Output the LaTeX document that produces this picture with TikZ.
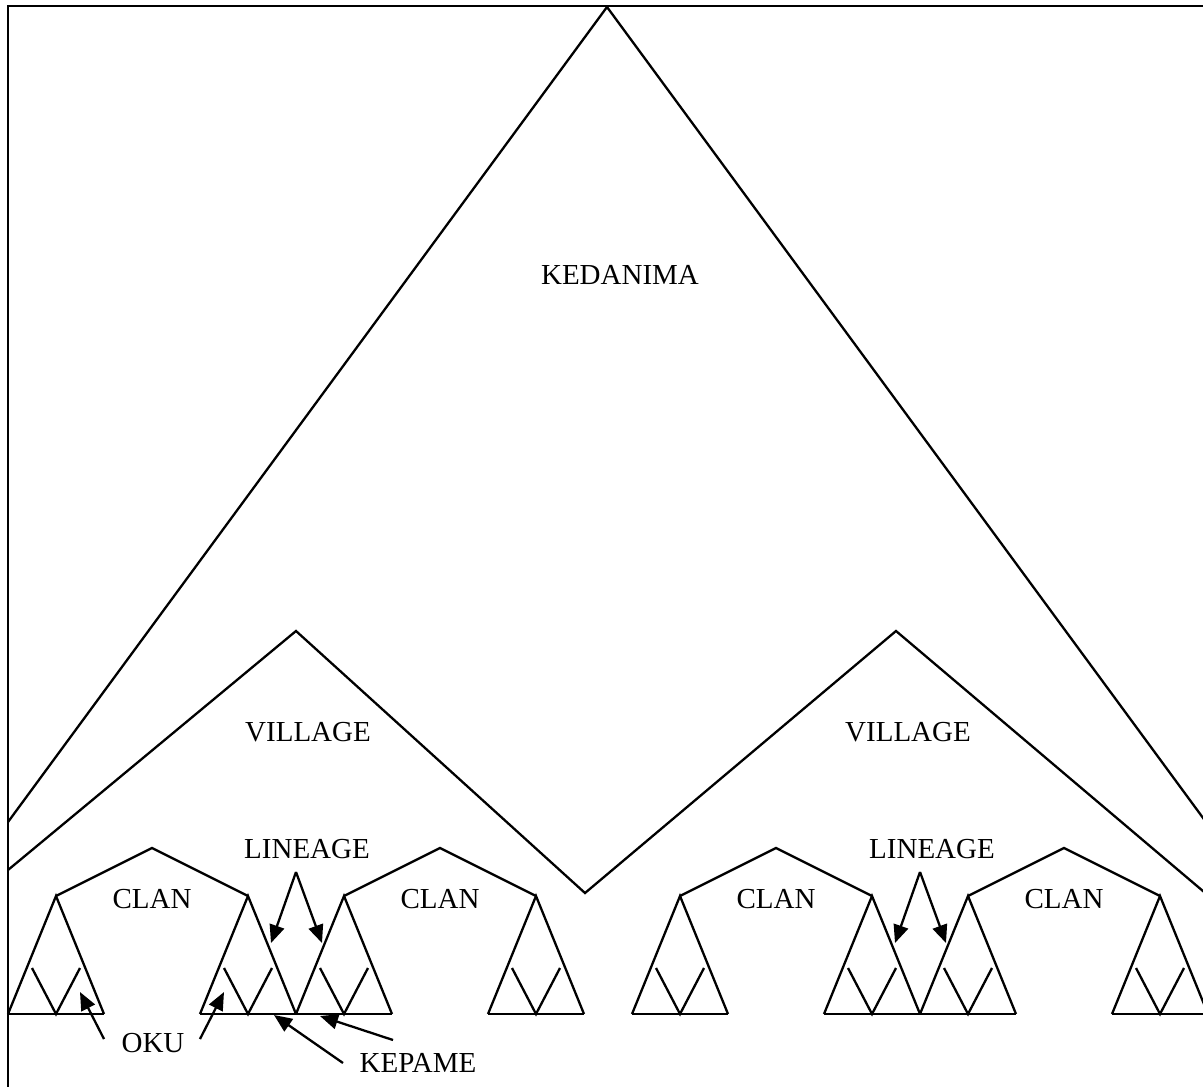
\documentclass[tikz,border=0pt]{standalone}
\usepackage{fontspec}
\setmainfont{Liberation Serif}
\usetikzlibrary{arrows.meta}
\begin{document}
\begin{tikzpicture}[x=0.5pt,y=-0.5pt,
  ln/.style={line width=1.15pt,line join=miter},
  arr/.style={line width=1.15pt,-{Triangle[length=9pt,width=7.5pt]}},
  lbl/.style={font=\fontsize{14.5}{16}\selectfont,inner sep=0pt,anchor=center}]
\useasboundingbox (0,0) rectangle (1203,1086);
\fill[white] (0,0) rectangle (1203,1086);
\clip (0,0) rectangle (1203,1086);
% frame
\draw[ln] (8,1090) -- (8,6) -- (1210,6);
% kedanima
\draw[ln] (8,822) -- (607,7) -- (1206,822);
% villages
\draw[ln] (8,870) -- (296,631) -- (585,893) -- (896,631) -- (1210,897);
% clans
\foreach \c in {152,440,776,1064}{
  \draw[ln] (\c-96,896) -- (\c,848) -- (\c+96,896);
  \foreach \t in {-96,96}{
    \pgfmathsetmacro{\x}{\c+\t}
    \draw[ln] (\x-48,1014) -- (\x,896) -- (\x+48,1014);
    \draw[ln] (\x-24,968) -- (\x,1014) -- (\x+24,968);
  }
}
\foreach \a/\b in {8/104,200/392,488/584,632/728,824/1016,1112/1210}
  \draw[ln] (\a,1014) -- (\b,1014);
% labels
\node[lbl] (ked) at (620,275) {KEDANIMA};
\node[lbl] (vil1) at (308,732) {VILLAGE};
\node[lbl] (vil2) at (908,732) {VILLAGE};
\node[lbl] (lin1) at (307,849) {LINEAGE};
\node[lbl] (lin2) at (932,849) {LINEAGE};
\node[lbl] (cl1) at (152,899) {CLAN};
\node[lbl] (cl2) at (440,899) {CLAN};
\node[lbl] (cl3) at (776,899) {CLAN};
\node[lbl] (cl4) at (1064,899) {CLAN};
\node[lbl] (oku) at (153,1043) {OKU};
\node[lbl] (kep) at (418,1063) {KEPAME};
% arrow coordinates
\coordinate (l1s) at (296,872);
\coordinate (l1a) at (271,943);
\coordinate (l1b) at (322,943);
\coordinate (l2s) at (920,872);
\coordinate (l2a) at (895,943);
\coordinate (l2b) at (946,943);
\coordinate (o1s) at (104,1039);
\coordinate (o1t) at (80,992);
\coordinate (o2s) at (200,1039);
\coordinate (o2t) at (224,992);
\coordinate (k1s) at (343,1063);
\coordinate (k1t) at (274,1015);
\coordinate (k2s) at (393,1040);
\coordinate (k2t) at (320,1016);
\draw[arr] (l1s) -- (l1a);
\draw[arr] (l1s) -- (l1b);
\draw[arr] (l2s) -- (l2a);
\draw[arr] (l2s) -- (l2b);
\draw[arr] (o1s) -- (o1t);
\draw[arr] (o2s) -- (o2t);
\draw[arr] (k1s) -- (k1t);
\draw[arr] (k2s) -- (k2t);
\end{tikzpicture}
\end{document}
